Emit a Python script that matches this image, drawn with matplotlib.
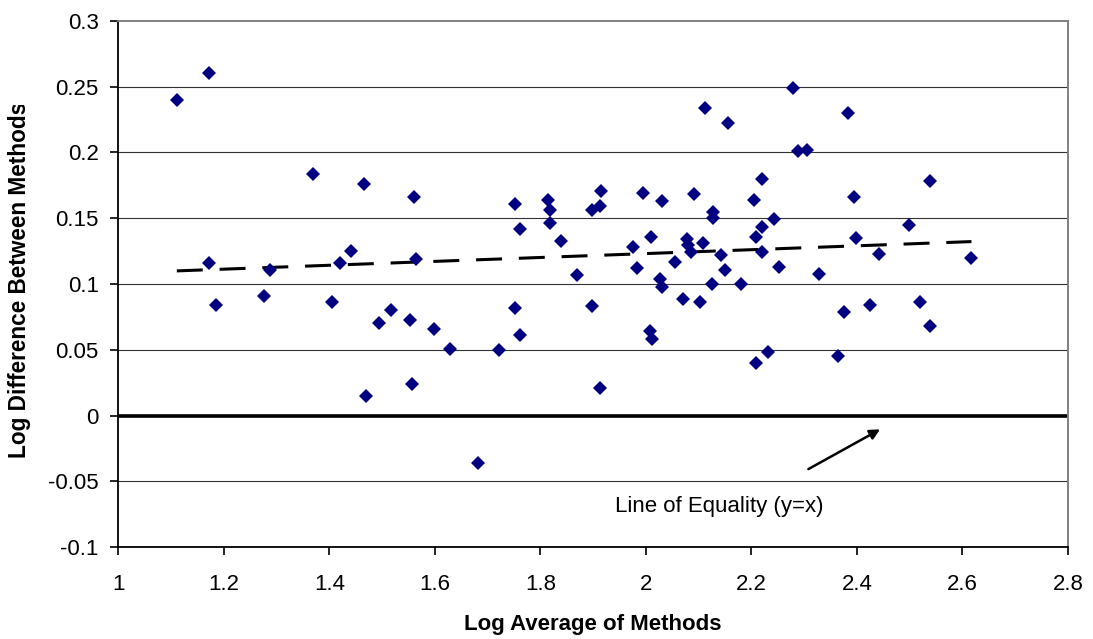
import numpy as np
import matplotlib
matplotlib.use("Agg")
import matplotlib.pyplot as plt
from matplotlib.ticker import FuncFormatter, MultipleLocator
from matplotlib.transforms import Bbox

plt.rcParams['font.family'] = ['Liberation Sans', 'DejaVu Sans']

# log average of methods (x) and log difference between methods (y)
log_avg = [
    1.111, 1.172, 1.370, 1.466, 1.560, 1.172, 1.287, 1.420, 1.441, 1.564,
    1.186, 1.276, 1.406, 1.495, 1.517, 1.553, 1.598, 1.470, 1.556, 1.629,
    1.682, 1.722, 1.751, 1.761, 1.751, 1.761, 1.815, 1.818, 1.818, 1.840,
    1.869, 1.897, 1.913, 1.915, 1.897, 1.913, 1.995, 2.031, 1.976, 2.009,
    1.984, 2.027, 2.031, 2.008, 2.012, 2.055, 2.071, 2.092, 2.077, 2.080,
    2.085, 2.109, 2.103, 2.125, 2.127, 2.128, 2.142, 2.150, 2.181, 2.204,
    2.209, 2.209, 2.221, 2.113, 2.156, 2.279, 2.289, 2.305, 2.383, 2.394,
    2.538, 2.243, 2.221, 2.221, 2.253, 2.329, 2.398, 2.441, 2.498, 2.617,
    2.376, 2.425, 2.520, 2.538, 2.232, 2.365,
]
log_diff = [
    0.240, 0.260, 0.1835, 0.176, 0.166, 0.116, 0.111, 0.116, 0.125, 0.119,
    0.084, 0.091, 0.086, 0.070, 0.080, 0.073, 0.0655, 0.015, 0.024, 0.051,
    -0.036, 0.050, 0.1605, 0.142, 0.0815, 0.061, 0.164, 0.156, 0.146, 0.133,
    0.107, 0.156, 0.159, 0.171, 0.083, 0.021, 0.169, 0.163, 0.128, 0.136,
    0.112, 0.1035, 0.098, 0.064, 0.058, 0.117, 0.0886, 0.168, 0.134, 0.1296,
    0.1245, 0.131, 0.086, 0.100, 0.155, 0.150, 0.122, 0.111, 0.100, 0.164,
    0.136, 0.040, 0.1795, 0.234, 0.222, 0.2486, 0.201, 0.2017, 0.2296, 0.166,
    0.178, 0.149, 0.1435, 0.1245, 0.113, 0.1076, 0.135, 0.123, 0.145, 0.120,
    0.0785, 0.084, 0.086, 0.068, 0.0486, 0.0455,
]

x = np.array(log_avg)
y = np.array(log_diff)

fig = plt.figure(figsize=(10.93, 6.39), dpi=100)
ax = fig.add_axes([0.1082, 0.1435, 0.8689, 0.8241])

# horizontal gridlines
for g in np.arange(-0.05, 0.30, 0.05):
    ax.axhline(g, color='#333333', lw=0.8, zorder=1)

# line of equality
ax.axhline(0, color='black', lw=2.6, zorder=2)

# linear trend line
slope, icpt = np.polyfit(x, y, 1)
tx = np.array([x.min(), x.max()])
ax.plot(tx, slope * tx + icpt, color='black', lw=2.2,
        linestyle=(0, (8.5, 5.5)), zorder=3)

ax.plot(x, y, linestyle='none', marker='D', ms=7, mew=0,
        color='#000080', zorder=4)

ax.set_xlim(1, 2.8)
ax.set_ylim(-0.1, 0.3)
ax.xaxis.set_major_locator(MultipleLocator(0.2))
ax.yaxis.set_major_locator(MultipleLocator(0.05))
ax.xaxis.set_major_formatter(FuncFormatter(lambda v, p: f"{round(v, 2):g}"))
ax.yaxis.set_major_formatter(FuncFormatter(lambda v, p: f"{round(v, 3):g}"))
ax.tick_params(axis='both', direction='out', length=6, width=1.2,
               labelsize=16, color='black')
ax.tick_params(axis='y', pad=8)
ax.tick_params(axis='x', pad=13)

for s in ('left', 'bottom'):
    ax.spines[s].set_color('black')
    ax.spines[s].set_linewidth(1.3)
for s in ('top', 'right'):
    ax.spines[s].set_color('#808080')
    ax.spines[s].set_linewidth(1.4)

ax.set_xlabel("Log Average of Methods", fontsize=16, fontweight='bold',
              labelpad=14)

# y label, clipped at the top as in the original
yl = fig.text(20 / 1093, (639 - 458) / 639, "Log Difference Between Methods",
              rotation=90, ha='center', va='bottom', fontsize=16.3,
              fontweight='bold')
yl.set_clip_box(Bbox.from_extents(0, 0, 1093, 639 - 105))
yl.set_clip_on(True)

ax.annotate('', xy=(2.444, -0.0104), xytext=(2.308, -0.0406),
            arrowprops=dict(arrowstyle='-|>', color='black', lw=1.8,
                            mutation_scale=15, shrinkA=0, shrinkB=0))
ax.text(1.941, -0.0692, "Line of Equality (y=x)", fontsize=16,
        ha='left', va='center')

fig.savefig("out.png", dpi=100)
